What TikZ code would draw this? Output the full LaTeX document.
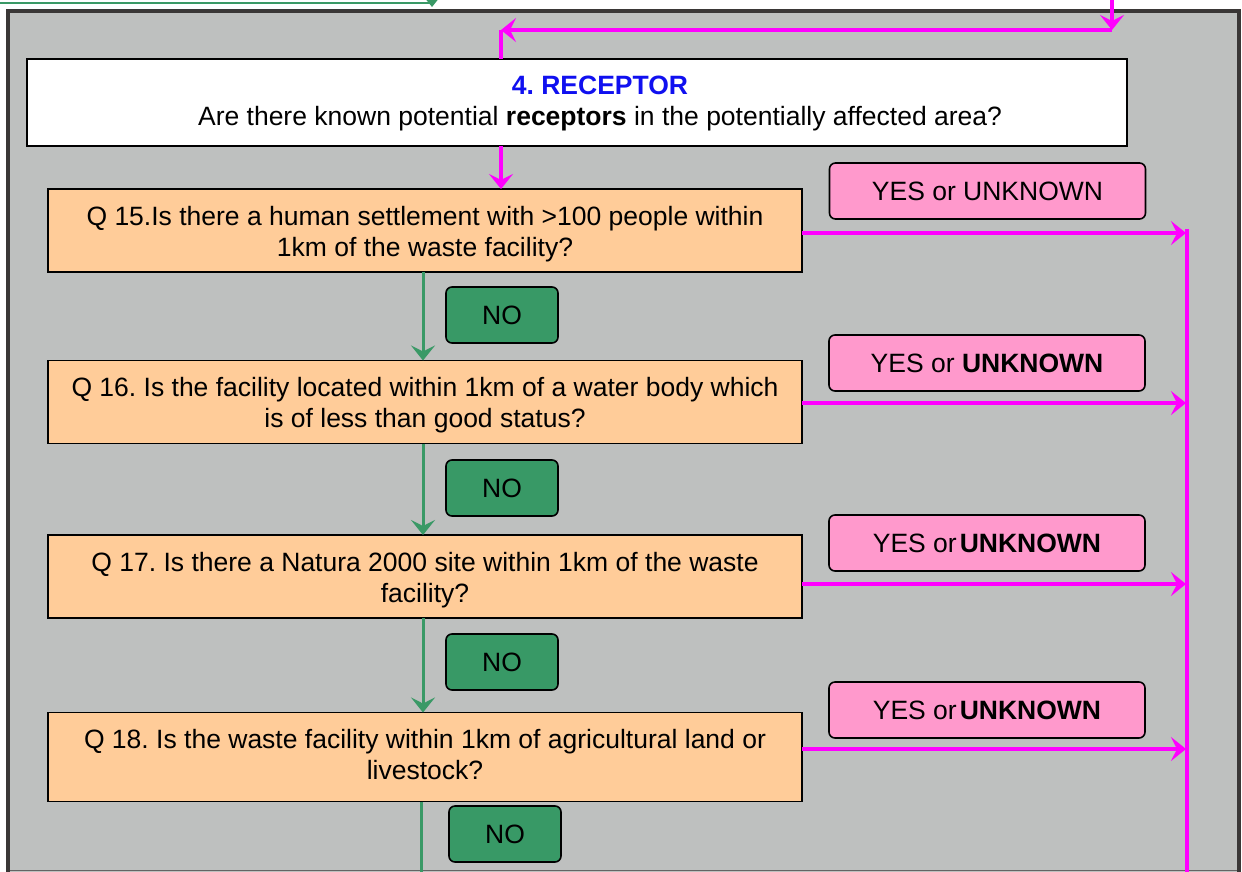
\documentclass[tikz,border=0pt]{standalone}
\usepackage{fontspec}
\setmainfont{Liberation Sans}
\usetikzlibrary{arrows.meta}
\definecolor{framegray}{RGB}{190,192,191}
\definecolor{frameedge}{RGB}{58,55,54}
\definecolor{bottomedge}{RGB}{100,100,100}
\definecolor{peach}{RGB}{255,204,153}
\definecolor{pinkbox}{RGB}{255,153,204}
\definecolor{greenbox}{RGB}{56,153,102}
\definecolor{greenline}{RGB}{58,153,102}
\definecolor{mag}{RGB}{255,0,255}
\definecolor{titleblue}{RGB}{16,16,240}
\frenchspacing
\begin{document}
\begin{tikzpicture}[x=1pt,y=-1pt,
  every node/.style={font=\fontsize{26.5}{31}\selectfont, inner sep=0pt, outer sep=0pt},
  qbox/.style={draw=black, line width=1.6pt, fill=peach, minimum width=754pt, minimum height=83pt},
  qtext/.style={align=center},
  nobox/.style={draw=black, line width=1.6pt, fill=greenbox, rounded corners=6pt, minimum width=112pt, minimum height=56pt},
  yesbox/.style={draw=black, line width=1.6pt, fill=pinkbox, rounded corners=6pt, minimum width=316pt, minimum height=56pt},
  tip/.style={-{Stealth[length=15pt,width=24pt,inset=6pt]}},
  magarrow/.style={draw=mag, line width=3.2pt, tip},
  magline/.style={draw=mag, line width=3.2pt},
  grnarrow/.style={draw=greenline, line width=3pt, tip},
  grnline/.style={draw=greenline, line width=3pt}
]
\useasboundingbox (0,0) rectangle (1242,871);
\clip (0,0) rectangle (1242,871);

% outer frame
\draw[frameedge, line width=4pt, fill=framegray] (7.5,10.5) rectangle (1238.5,900);
\draw[bottomedge, line width=1.5pt] (9.5,870.5) -- (1236.5,870.5);

% coordinates
\coordinate (gstart) at (-5,3);
\coordinate (gcorner) at (432,3);
\coordinate (gtop) at (432,-8);
\coordinate (gend) at (432,7);
\coordinate (intop) at (1112,-5);
\coordinate (incorner) at (1112,30);
\coordinate (inleft) at (501,30);
\coordinate (gx) at (423,0);
\coordinate (gx2) at (421,0);
\coordinate (gbottom) at (421,880);
\coordinate (bustop) at (1187,229);
\coordinate (busbottom) at (1187,880);
\coordinate (bus1) at (1186,233);
\coordinate (bus2) at (1186,403);
\coordinate (bus3) at (1186,584);
\coordinate (bus4) at (1186,749);

% top incoming connectors
\draw[grnline, line width=2pt] (gstart) -- (gcorner);
\draw[grnarrow, line width=2pt] (gtop) -- (gend);

% receptor box
\node[draw=black, line width=1.6pt, fill=white, minimum width=1100pt, minimum height=87pt] (rec) at (577,102.5) {};
\node[align=center] (rectext) at (600,103) {{\bfseries\color{titleblue}4. RECEPTOR}\\Are there known potential \textbf{receptors} in the potentially affected area?};

% question boxes
\node[qbox] (q15) at (425,230.5) {};
\node[qtext] (q15t) at (425,234.5) {Q 15.Is there a human settlement with >100 people within\\1km of the waste facility?};
\node[qbox] (q16) at (425,402) {};
\node[qtext] (q16t) at (425,405) {Q 16. Is the facility located within 1km of a water body which\\is of less than good status?};
\node[qbox] (q17) at (425,576.5) {};
\node[qtext] (q17t) at (425,580) {Q 17. Is there a Natura 2000 site within 1km of the waste\\facility?};
\node[qbox, minimum height=89pt] (q18) at (425,757) {};
\node[qtext] (q18t) at (425,754.5) {Q 18. Is the waste facility within 1km of agricultural land or\\livestock?};

% NO boxes
\node[nobox] (no1) at (502,315) {NO};
\node[nobox] (no2) at (502,488) {NO};
\node[nobox] (no3) at (502,662) {NO};
\node[nobox] (no4) at (505,834) {NO};

% YES boxes
\node[yesbox] (yes1) at (987.5,191) {YES or UNKNOWN};
\node[yesbox] (yes2) at (987,363) {YES or \textbf{UNKNOWN}};
\node[yesbox] (yes3) at (987,543) {YES or\hspace{3pt}\textbf{UNKNOWN}};
\node[yesbox] (yes4) at (987,710) {YES or\hspace{3pt}\textbf{UNKNOWN}};

% magenta connectors at the top
\draw[magarrow] (intop) -- (incorner);
\draw[magarrow] (incorner) -- (inleft);
\draw[magline] (inleft) -- (rec.north -| inleft);
\draw[magarrow] (rec.south -| inleft) -- (q15.north -| inleft);

% green NO connectors
\draw[grnarrow] (q15.south -| gx) -- (q16.north -| gx);
\draw[grnarrow] (q16.south -| gx) -- (q17.north -| gx);
\draw[grnarrow] (q17.south -| gx) -- (q18.north -| gx);
\draw[grnline] (q18.south -| gx2) -- (gbottom);

% magenta YES connectors
\draw[magline] (bustop) -- (busbottom);
\draw[magarrow] (q15.east |- bus1) -- (bus1);
\draw[magarrow] (q16.east |- bus2) -- (bus2);
\draw[magarrow] (q17.east |- bus3) -- (bus3);
\draw[magarrow] (q18.east |- bus4) -- (bus4);
\end{tikzpicture}
\end{document}
